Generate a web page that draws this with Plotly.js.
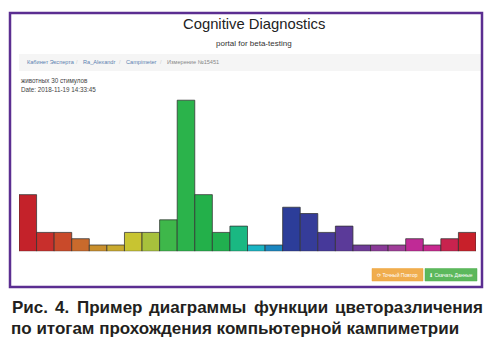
<!DOCTYPE html>
<html>
<head>
<meta charset="utf-8">
<script src="https://cdn.plot.ly/plotly-3.0.1.min.js"></script>
<style>html,body{margin:0;padding:0;background:#fff;}#chart{width:491px;height:349px;}</style>
</head>
<body>
<div id="chart"></div>
<script>
// Stimulus index (26 colour stimuli)
var stimuli = ["1","2","3","4","5","6","7","8","9","10","11","12","13","14","15","16","17","18","19","20","21","22","23","24","25","26"];
// Response values
var values = [9,3,3,2,1,1,3,3,5,24,9,3,4,1,1,7,6,3,4,1,1,1,2,1,2,3];
// Bar colours (hue of each stimulus)
var barColors = ["#c4222a","#c82f2c","#c94a2a","#c96a2c","#c98f2c","#c9aa2e","#c8c431","#a7c13c","#3eb74a","#2bb34b","#23b04a","#21b04f","#1ab882","#19b5c4","#1a86c0","#2c3d99","#353c99","#46399a","#5b3a99","#6e3a98","#8a3a98","#a03d99","#c02a96","#c8288f","#c8234e","#c8202a"];

var titleText = "Cognitive Diagnostics";
var subtitleText = "portal for beta-testing";
var crumbs = ["Кабинет Эксперта", "Ra_Alexandr", "Campimeter", "Измерение №15451"];
var infoLine1 = "животных 30 стимулов";
var infoLine2 = "Date: 2018-11-19 14:33:45";
var btn1 = "⟳ Точный Повтор";
var btn2 = "⬇ Скачать Данные";
var caption1Words = ["Рис.", "4.", "Пример", "диаграммы", "функции", "цветоразличения"];
var caption2 = "по итогам прохождения компьютерной кампиметрии";

var W = 491, H = 349;
function px(x){return x/W;}
function py(y){return 1 - y/H;}

var trace = {
  type: "bar",
  x: stimuli,
  y: values,
  marker: {color: barColors, line: {color: "rgba(50,50,50,0.75)", width: 1}},
  hoverinfo: "none"
};

var crumbAnn = [];
var crumbPos = [25, 81, 124, 165];
var sepPos = [77, 120, 161];
for (var i = 0; i < crumbs.length; i++) {
  crumbAnn.push({xref:"paper", yref:"paper", x:px(crumbPos[i]), y:py(62.5), xanchor:"left", yanchor:"middle",
    text: crumbs[i], showarrow:false, font:{family:"Liberation Sans, Arial", size:5.6, color: i < 3 ? "#5b7fb0" : "#888"}});
}
for (var j = 0; j < sepPos.length; j++) {
  crumbAnn.push({xref:"paper", yref:"paper", x:px(sepPos[j]), y:py(62.5), xanchor:"center", yanchor:"middle",
    text: "/", showarrow:false, font:{family:"Liberation Sans, Arial", size:5.6, color:"#ccc"}});
}

// justified first caption line (measure words, spread between left and right edges)
var capSize = 17, capLeft = 10, capRight = 481;
var cv = document.createElement("canvas").getContext("2d");
cv.font = "bold " + capSize + "px 'Liberation Sans', Arial";
var widths = caption1Words.map(function(w){ return cv.measureText(w).width; });
var total = widths.reduce(function(a,b){return a+b;}, 0);
var gap = (capRight - capLeft - total) / (caption1Words.length - 1);
var capAnn = [];
var cx = capLeft;
for (var k = 0; k < caption1Words.length; k++) {
  capAnn.push({xref:"paper", yref:"paper", x:px(cx), y:py(307), xanchor:"left", yanchor:"middle",
    text:"<b>" + caption1Words[k] + "</b>", showarrow:false, font:{family:"Liberation Sans, Arial", size:capSize, color:"#231f20"}});
  cx += widths[k] + gap;
}

var layout = {
  width: W, height: H,
  margin: {l:0, r:0, t:0, b:0},
  paper_bgcolor: "#fff", plot_bgcolor: "rgba(0,0,0,0)",
  showlegend: false,
  bargap: 0,
  xaxis: {domain:[px(19), px(476)], range:[-0.5, 25.5], showticklabels:false, showgrid:false, zeroline:false, ticks:"", showline:false, type:"category", fixedrange:true},
  yaxis: {domain:[py(251.3), py(93.9)], range:[0, 25], showticklabels:false, showgrid:false, zeroline:false, ticks:"", showline:false, fixedrange:true},
  shapes: [
    {type:"rect", xref:"paper", yref:"paper", x0:px(19), x1:px(481), y0:py(71), y1:py(54), fillcolor:"#f5f5f5", line:{width:0}, layer:"below"},
    {type:"rect", xref:"paper", yref:"paper", x0:px(10), x1:px(482), y0:py(287), y1:py(13), fillcolor:"rgba(0,0,0,0)", line:{color:"#5b2e91", width:2.5}},
    {type:"rect", xref:"paper", yref:"paper", x0:px(372), x1:px(423), y0:py(281), y1:py(268.5), fillcolor:"#f0ad4e", line:{color:"#eea236", width:0.5}},
    {type:"rect", xref:"paper", yref:"paper", x0:px(425), x1:px(477), y0:py(281), y1:py(268.5), fillcolor:"#5cb85c", line:{color:"#4cae4c", width:0.5}}
  ],
  annotations: [
    {xref:"paper", yref:"paper", x:px(254), y:py(24), xanchor:"center", yanchor:"middle", text:titleText, showarrow:false, font:{family:"Liberation Sans, Arial", size:14.8, color:"#222"}},
    {xref:"paper", yref:"paper", x:px(254), y:py(43.5), xanchor:"center", yanchor:"middle", text:subtitleText, showarrow:false, font:{family:"Liberation Sans, Arial", size:8, color:"#333"}},
    {xref:"paper", yref:"paper", x:px(19), y:py(80.5), xanchor:"left", yanchor:"middle", text:infoLine1, showarrow:false, font:{family:"Liberation Sans, Arial", size:6.3, color:"#444"}},
    {xref:"paper", yref:"paper", x:px(19), y:py(89.5), xanchor:"left", yanchor:"middle", text:infoLine2, showarrow:false, font:{family:"Liberation Sans, Arial", size:6.3, color:"#444"}},
    {xref:"paper", yref:"paper", x:px(397.5), y:py(275), xanchor:"center", yanchor:"middle", text:btn1, showarrow:false, font:{family:"Liberation Sans, Arial", size:5, color:"#fff"}},
    {xref:"paper", yref:"paper", x:px(451), y:py(275), xanchor:"center", yanchor:"middle", text:btn2, showarrow:false, font:{family:"Liberation Sans, Arial", size:5, color:"#fff"}},
    {xref:"paper", yref:"paper", x:px(9), y:py(328), xanchor:"left", yanchor:"middle", text:"<b>" + caption2 + "</b>", showarrow:false, font:{family:"Liberation Sans, Arial", size:capSize, color:"#231f20"}}
  ].concat(crumbAnn).concat(capAnn)
};

Plotly.newPlot("chart", [trace], layout, {displayModeBar:false, staticPlot:true});
</script>
</body>
</html>
